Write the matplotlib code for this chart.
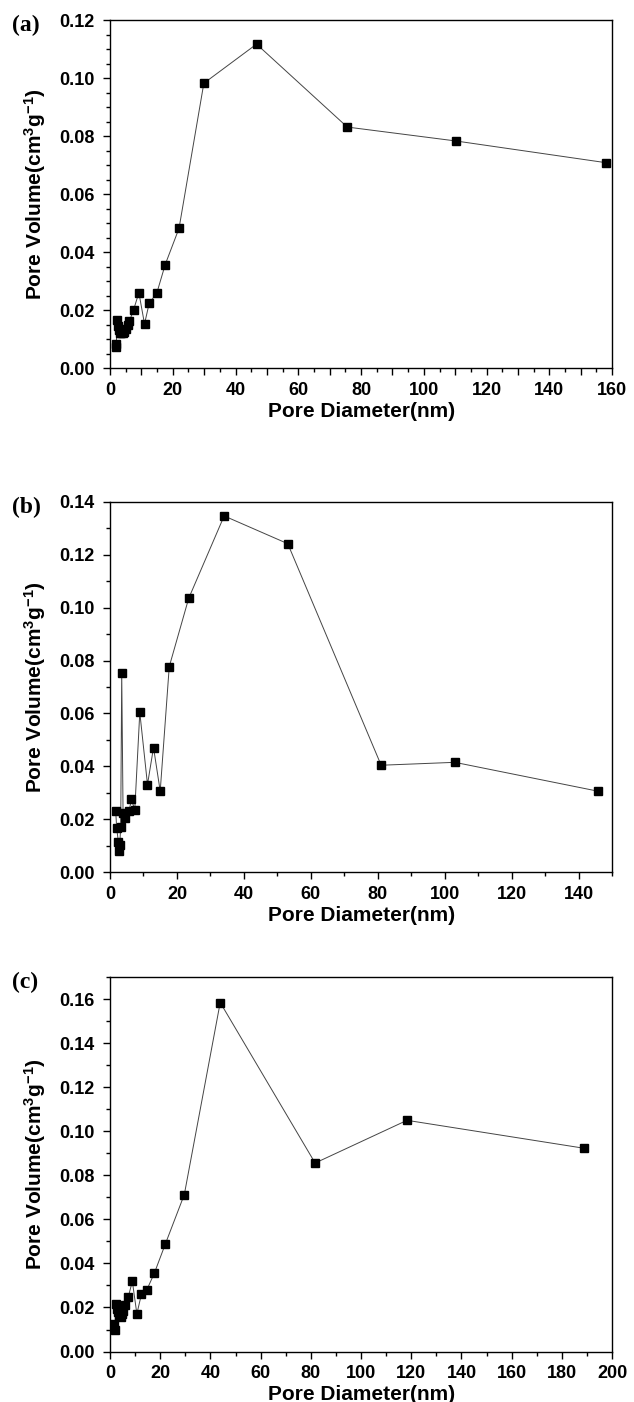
import numpy as np
import matplotlib.pyplot as plt
from matplotlib.ticker import MultipleLocator, FuncFormatter

plt.rcParams["mathtext.fontset"] = "custom"
plt.rcParams["mathtext.bf"] = "Liberation Sans:bold"
plt.rcParams["mathtext.rm"] = "Liberation Sans:bold"
plt.rcParams["mathtext.default"] = "bf"

# panel (a)
dia_a = [1.9, 2.0, 2.2, 2.5, 2.8, 3.1, 3.5, 4.0, 4.5, 5.1, 5.6, 6.2, 7.5, 9.2,
         11.0, 12.5, 14.9, 17.6, 22.0, 29.9, 46.7, 75.6, 110.2, 158.1]
vol_a = [0.0082, 0.0072, 0.0164, 0.0146, 0.0131, 0.0122, 0.0120, 0.0121, 0.0125,
         0.0135, 0.0148, 0.0162, 0.0200, 0.0260, 0.0152, 0.0224, 0.0258, 0.0357,
         0.0482, 0.0982, 0.1117, 0.0831, 0.0783, 0.0708]

# panel (b)
dia_b = [1.7, 2.0, 2.5, 2.7, 2.9, 3.2, 3.5, 3.9, 4.5, 5.7, 6.4, 7.4, 8.9, 11.2,
         13.0, 15.0, 17.7, 23.5, 34.1, 53.1, 81.0, 103.0, 145.7]
vol_b = [0.0231, 0.0165, 0.0115, 0.0080, 0.0102, 0.0171, 0.0752, 0.0225, 0.0206,
         0.0231, 0.0275, 0.0235, 0.0604, 0.0331, 0.0471, 0.0306, 0.0777, 0.1035,
         0.1347, 0.1242, 0.0404, 0.0415, 0.0306]

# panel (c)
dia_c = [1.7, 2.0, 2.3, 2.7, 3.1, 3.6, 4.2, 4.8, 5.3, 6.0, 7.3, 8.9, 10.7, 12.5,
         14.7, 17.7, 22.1, 29.6, 43.9, 81.7, 118.3, 188.9]
vol_c = [0.0125, 0.0100, 0.0215, 0.0195, 0.0178, 0.0162, 0.0155, 0.0170, 0.0185,
         0.0210, 0.0249, 0.0319, 0.0171, 0.0259, 0.0281, 0.0357, 0.0490, 0.0713,
         0.1585, 0.0856, 0.1050, 0.0923]

# tag, x, y, xmax, ymax, x major step, x minor step, y minor step, axes rect
panels = [
    ("(a)", dia_a, vol_a, 160, 0.12, 10, 5, 0.005, [0.1735, 0.7375, 0.792, 0.2482]),
    ("(b)", dia_b, vol_b, 150, 0.14, 20, 10, 0.01, [0.1735, 0.378, 0.792, 0.264]),
    ("(c)", dia_c, vol_c, 200, 0.17, 20, 10, 0.01, [0.1735, 0.036, 0.792, 0.267]),
]


def xlab(v, pos):
    return "%d" % v if int(round(v)) % 20 == 0 else ""


fig = plt.figure(figsize=(6.34, 14.02), dpi=100)
for tag, x, y, xmax, ymax, xmaj, xminor, yminor, rect in panels:
    ax = fig.add_axes(rect)
    ax.plot(x, y, color="#444444", lw=0.7, marker="s", ms=5.5,
            mfc="black", mec="black")
    ax.set_xlim(0, xmax)
    ax.set_ylim(0, ymax)
    ax.xaxis.set_major_locator(MultipleLocator(xmaj))
    ax.xaxis.set_minor_locator(MultipleLocator(xminor))
    ax.xaxis.set_major_formatter(FuncFormatter(xlab))
    ax.yaxis.set_major_locator(MultipleLocator(0.02))
    ax.yaxis.set_minor_locator(MultipleLocator(yminor))
    ax.yaxis.set_major_formatter(FuncFormatter(lambda v, p: "%.2f" % v))
    ax.tick_params(which="major", direction="out", length=5, width=1,
                   labelsize=13, top=False, right=False)
    ax.tick_params(axis="x", which="major", pad=5)
    ax.tick_params(axis="y", which="major", pad=6)
    ax.tick_params(which="minor", direction="out", length=3, width=1,
                   top=False, right=False)
    for lab in ax.get_xticklabels() + ax.get_yticklabels():
        lab.set_fontweight("bold")
        lab.set_family("Liberation Sans")
    for s in ax.spines.values():
        s.set_linewidth(1)
    ax.set_xlabel("Pore Diameter(nm)", fontsize=15, fontweight="bold",
                  family="Liberation Sans", labelpad=2)
    ax.set_ylabel("Pore Volume(cm$^{3}$g$^{-1}$)",
                  fontsize=15, fontweight="bold", family="Liberation Sans",
                  labelpad=8)
    ax.text(-0.195, 0.985, tag, transform=ax.transAxes, fontsize=17,
            fontweight="bold", family="Liberation Serif", va="center", ha="left")

fig.savefig("out.png", dpi=100)
